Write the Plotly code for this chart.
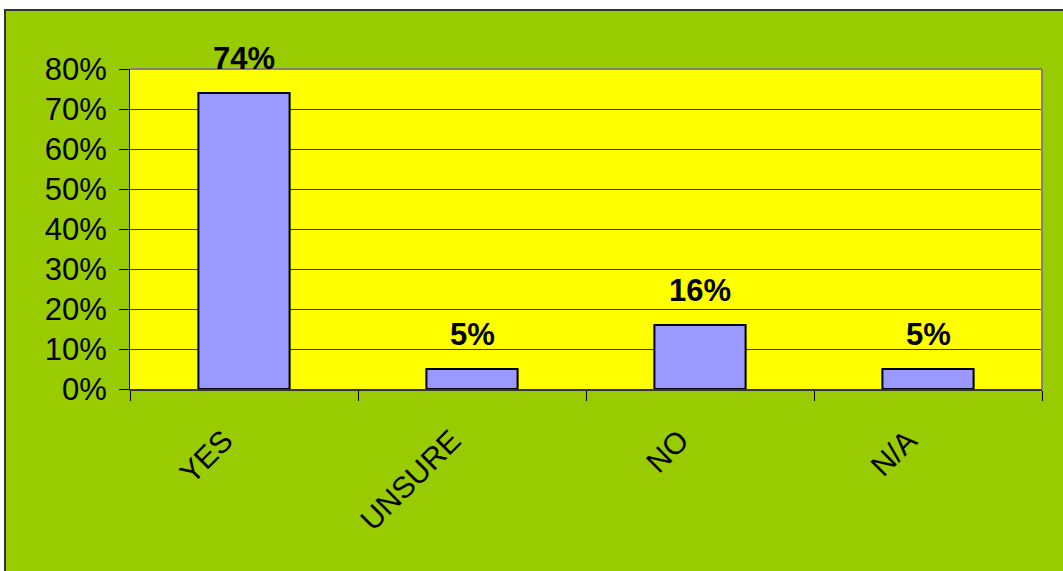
import plotly.graph_objects as go

categories = ["YES", "UNSURE", "NO", "N/A"]
values = [0.74, 0.05, 0.16, 0.05]
value_labels = ["74%", "5%", "16%", "5%"]
y_ticks = [0, 0.1, 0.2, 0.3, 0.4, 0.5, 0.6, 0.7, 0.8]
y_tick_labels = ["0%", "10%", "20%", "30%", "40%", "50%", "60%", "70%", "80%"]

FONT = "Liberation Sans, Arial, sans-serif"
W, H = 1063, 571
L, R, T, B = 130, 21, 69, 182
pw, ph = W - L - R, H - T - B

def px_x(x):
    return (x - L) / pw

def px_y(y):
    return (H - B - y) / ph

fig = go.Figure()
fig.add_trace(go.Bar(
    x=categories, y=values,
    marker=dict(color="#9999FF", line=dict(color="#000000", width=2)),
    width=0.4,
    hoverinfo="skip",
))

for c, v, t in zip(categories, values, value_labels):
    fig.add_annotation(x=c, y=v, text="<b>%s</b>" % t, showarrow=False,
                       yanchor="bottom", yshift=15,
                       font=dict(family=FONT, size=31, color="#000000"))

shapes = [
    dict(type="rect", xref="paper", yref="paper", layer="below",
         x0=px_x(5), x1=px_x(1100), y0=px_y(620), y1=px_y(10),
         fillcolor="#99CC00", line=dict(color="#333333", width=2)),
    dict(type="rect", xref="paper", yref="paper", layer="below",
         x0=0, x1=1, y0=0, y1=1, fillcolor="#FFFF00", line=dict(width=0)),
    dict(type="line", xref="paper", yref="paper", layer="above",
         x0=0, x1=1, y0=1, y1=1, line=dict(color="#808080", width=2)),
    dict(type="line", xref="paper", yref="paper", layer="above",
         x0=1, x1=1, y0=0, y1=1, line=dict(color="#808080", width=2)),
]

fig.update_layout(
    width=W, height=H,
    margin=dict(l=L, r=R, t=T, b=B, pad=0),
    paper_bgcolor="#FFFFFF",
    plot_bgcolor="#FFFF00",
    showlegend=False,
    bargap=0.6,
    shapes=shapes,
    font=dict(family=FONT, size=31, color="#000000"),
)
fig.update_xaxes(
    type="category", range=[-0.5, 3.5],
    showgrid=False, showline=True, linecolor="#333333", linewidth=2,
    ticks="outside", tickson="boundaries", ticklen=10, tickcolor="#000000",
    tickangle=-45, tickfont=dict(family=FONT, size=30, color="#000000"),
    ticklabelstandoff=20, ticklabelshift=-20,
)
fig.update_yaxes(
    range=[0, 0.8], tickvals=y_ticks, ticktext=y_tick_labels,
    showgrid=True, gridcolor="#333333", gridwidth=1,
    zeroline=False, showline=True, linecolor="#000000", linewidth=1,
    ticks="outside", ticklen=10, tickcolor="#000000",
    tickfont=dict(family=FONT, size=31, color="#000000"),
    ticklabelstandoff=6,
)

fig.write_html(
    "out.html",
    config={"displayModeBar": False, "staticPlot": True},
    post_script="document.body.style.margin='0';document.body.style.overflow='hidden';",
)
